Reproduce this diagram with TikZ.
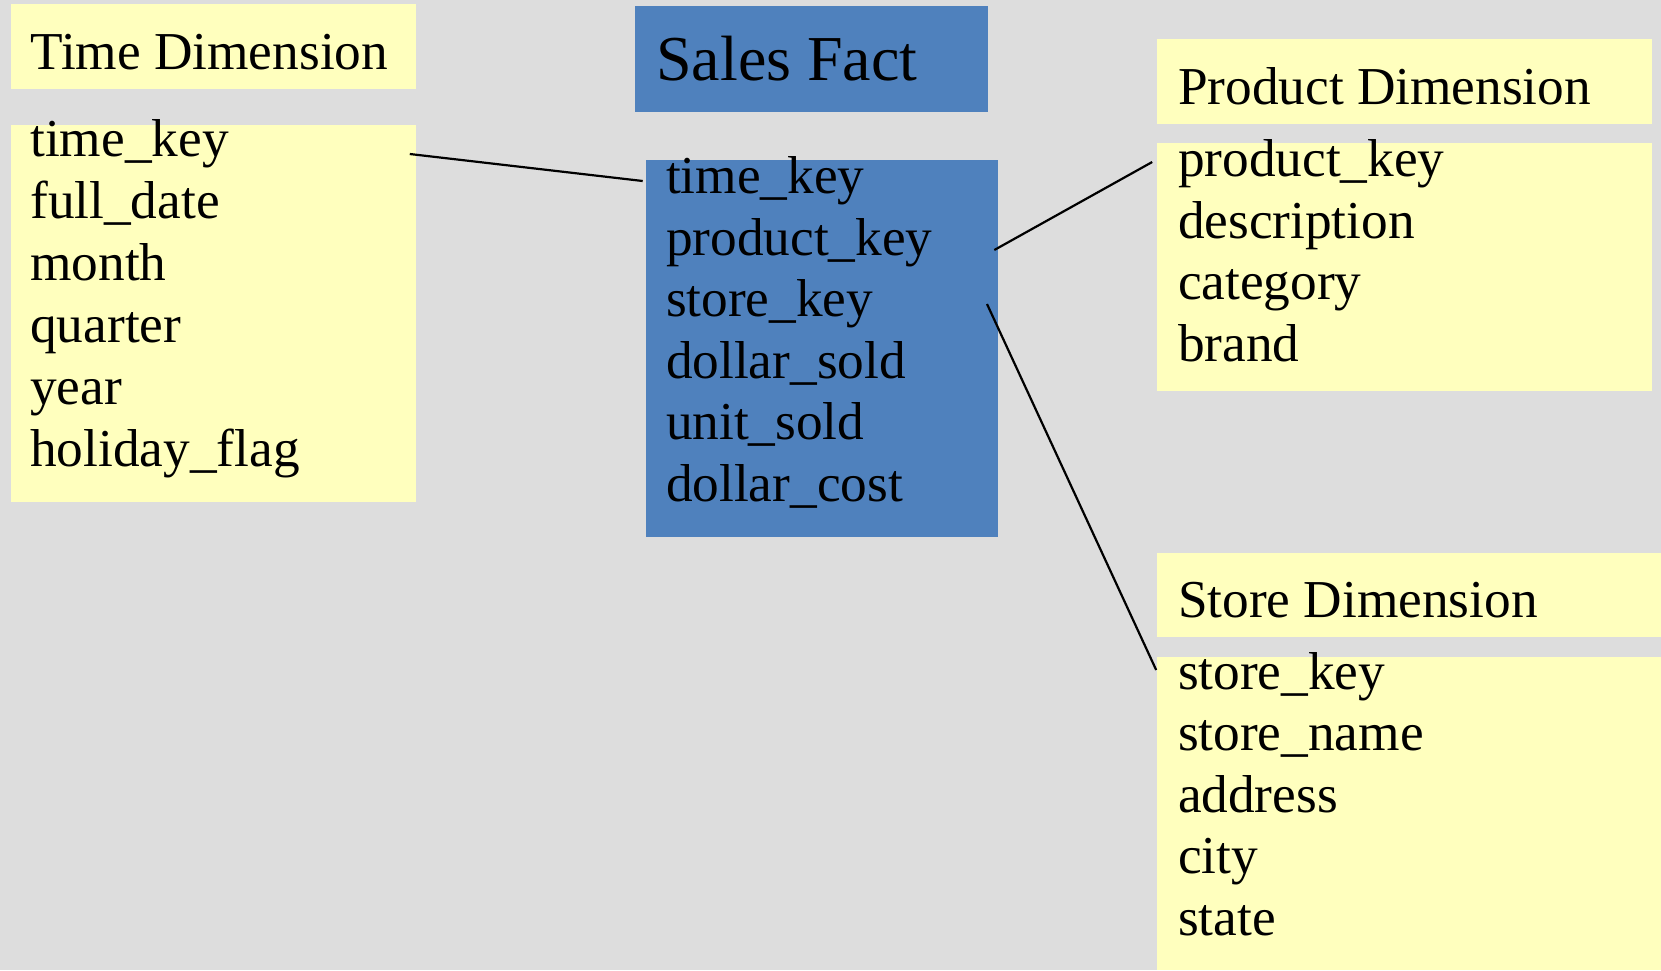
\documentclass[tikz,border=0pt]{standalone}
\usepackage{fontspec}
\setmainfont{Liberation Serif}
\usetikzlibrary{calc}
\definecolor{bgc}{RGB}{221,221,221}
\definecolor{dimfill}{RGB}{255,255,190}
\definecolor{factfill}{RGB}{79,129,189}
\tikzset{
  box/.style={draw=none, rectangle, anchor=north west, inner sep=0pt, outer sep=0pt},
  dimbox/.style={box, fill=dimfill},
  factbox/.style={box, fill=factfill},
  item/.style={anchor=base west, inner sep=0pt, outer sep=0pt, font=\fontsize{53.3}{62}\selectfont},
  facttitle/.style={anchor=base west, inner sep=0pt, outer sep=0pt, font=\fontsize{64}{76}\selectfont},
  link/.style={draw=black, line width=2.2pt}
}
\begin{document}
\begin{tikzpicture}[x=1pt,y=-1pt]
\fill[bgc] (0,0) rectangle (1661,970);
\useasboundingbox (0,0) rectangle (1661,970);

% boxes
\node[dimbox, minimum width=405.3pt, minimum height=85pt] (ttitle) at (10.5,4) {};
\node[dimbox, minimum width=405.3pt, minimum height=376.7pt] (tlist) at (10.5,125) {};
\node[factbox, minimum width=353pt, minimum height=105.7pt] (stitle) at (634.7,6) {};
\node[factbox, minimum width=352.6pt, minimum height=376.4pt] (slist) at (645.7,160.4) {};
\node[dimbox, minimum width=494.8pt, minimum height=85pt] (ptitle) at (1157.2,39.3) {};
\node[dimbox, minimum width=494.8pt, minimum height=247.4pt] (plist) at (1157.2,143.3) {};
\node[dimbox, minimum width=503.8pt, minimum height=84.6pt] (sttitle) at (1157.2,552.7) {};
\node[dimbox, minimum width=503.8pt, minimum height=313.3pt] (stlist) at (1157.2,656.7) {};

% titles
\node[item] (ttext) at (30.3,69.5) {Time Dimension};
\node[facttitle] (stext) at (656.2,80.5) {Sales Fact};
\node[item] (ptext) at (1178,104) {Product Dimension};
\node[item] (sttext) at (1178,617) {Store Dimension};

% items
\foreach \t [count=\i] in {time\_key, full\_date, month, quarter, year, holiday\_flag}
  \node[item] (ti\i) at (30.3,{156.5+62*(\i-1)}) {\t};
\foreach \t [count=\i] in {time\_key, product\_key, store\_key, dollar\_sold, unit\_sold, dollar\_cost}
  \node[item] (si\i) at (666,{193.5+61.5*(\i-1)}) {\t};
\foreach \t [count=\i] in {product\_key, description, category, brand}
  \node[item] (pi\i) at (1178,{176.5+61.5*(\i-1)}) {\t};
\foreach \t [count=\i] in {store\_key, store\_name, address, city, state}
  \node[item] (sti\i) at (1178,{689+61.5*(\i-1)}) {\t};

% connectors
\coordinate (c1a) at ($(tlist.north east)+(-6,29)$);
\coordinate (c1b) at ($(slist.north west)+(-3,20.6)$);
\coordinate (c2a) at ($(slist.north east)+(-4,89.6)$);
\coordinate (c2b) at ($(plist.north west)+(-5,18.7)$);
\coordinate (c3a) at ($(slist.north east)+(-11.3,143.6)$);
\coordinate (c3b) at ($(stlist.north west)+(-1,13.3)$);
\draw[link] (c1a) -- (c1b);
\draw[link] (c2a) -- (c2b);
\draw[link] (c3a) -- (c3b);
\end{tikzpicture}
\end{document}
